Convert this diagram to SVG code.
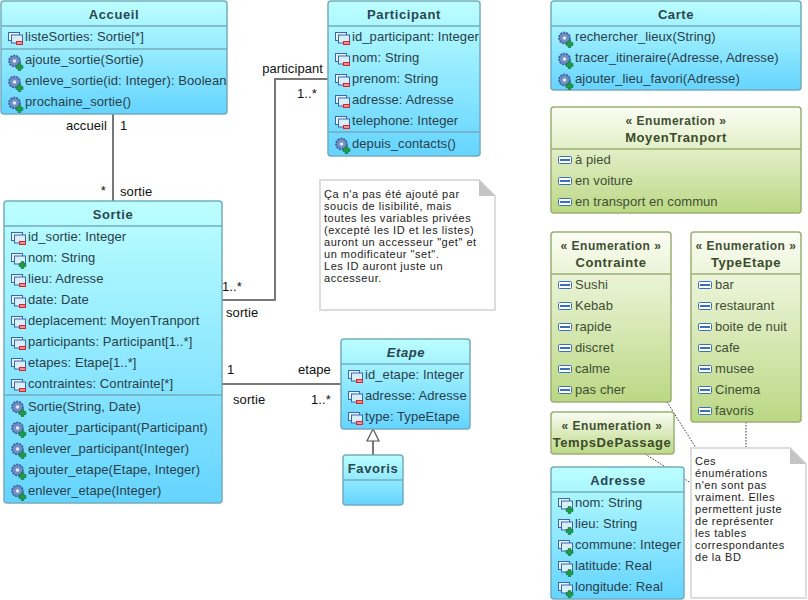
<svg xmlns="http://www.w3.org/2000/svg" xmlns:xlink="http://www.w3.org/1999/xlink" width="808" height="600" viewBox="0 0 808 600">
<style>
text{font-family:"Liberation Sans",Arial,sans-serif;font-size:13px;letter-spacing:.08px;fill:#2a3f48}
.t{font-weight:bold;text-anchor:middle;fill:#2a4650;letter-spacing:.6px}
.s{font-weight:bold;text-anchor:middle;font-size:12px;fill:#3a4a2a;letter-spacing:.5px}
.g .t{fill:#3a4a2a}
.g text{fill:#3f4f35}
.l{fill:#111}
.n{font-size:11px;fill:#222;letter-spacing:.52px}
.bb{fill:url(#blue);stroke:#73acbd;stroke-width:1.5}
.gb{fill:url(#green);stroke:#9aaf75;stroke-width:1.5}
.d1{stroke:#73acbd;stroke-width:1.5}
.d2{stroke:#9aaf75;stroke-width:1.5}
.c{fill:none;stroke:#777;stroke-width:2}
.dot{fill:none;stroke:#333;stroke-width:1;stroke-dasharray:1.5 1.5}
.note{fill:#fff;stroke:#ddd;stroke-width:2}
.fold{fill:#c4c4c4}
</style>
<defs>
<linearGradient id="blue" x1="0" y1="0" x2="0" y2="1"><stop offset="0" stop-color="#bcfeff"/><stop offset="1" stop-color="#65d4ff"/></linearGradient>
<linearGradient id="green" x1="0" y1="0" x2="0" y2="1"><stop offset="0" stop-color="#fbfdf3"/><stop offset="1" stop-color="#bbd884"/></linearGradient>
<g id="f"><rect x="0.5" y="0.5" width="11" height="8" fill="#e6f4fb" stroke="#3a66b0"/><rect x="3.5" y="3" width="11" height="8" fill="#d8effa" stroke="#3a66b0"/></g>
<g id="fm"><use xlink:href="#f"/><rect x="8" y="9" width="7" height="4" fill="#d8232a"/><rect x="9" y="10.5" width="5" height="1" fill="#fff"/></g>
<g id="fp"><use xlink:href="#f"/><path d="M10 8.5h3v2h2v3h-2v2h-3v-2h-2v-3h2z" fill="#1f9a4c" stroke="#0e6a30" stroke-width=".5"/></g>
<g id="o"><circle cx="6.5" cy="6" r="5.5" fill="#6f8fc4" stroke="#3a5a9a" stroke-dasharray="2 1" stroke-width="1.6"/><circle cx="6.5" cy="6" r="1.8" fill="#dfe9f6"/><path d="M10 8.5h3v2h2v3h-2v2h-3v-2h-2v-3h2z" fill="#1f9a4c" stroke="#0e6a30" stroke-width=".5"/></g>
<g id="e"><rect x="0.5" y="0.5" width="13" height="7" rx="1" fill="#fff" stroke="#3a70b8"/><rect x="2" y="3" width="10" height="2" fill="#3a70b8"/></g>
</defs>

<g id="connectors">
<path class="c" d="M113 114V201"/>
<path class="c" d="M222 300H275V79H328"/>
<path class="c" d="M222 384H341"/>
<path class="c" d="M373 455V441"/>
<path d="M373 429L379 441H367Z" fill="#fff" stroke="#555" stroke-width="1.2"/>
<path class="dot" d="M667 402L696 448"/>
<path class="dot" d="M645 454L691 483"/>
<path class="dot" d="M746 422V448"/>
<g class="l">
<text class="l" x="107" y="130" text-anchor="end">accueil</text><text class="l" x="120" y="130">1</text>
<text class="l" x="106" y="195" text-anchor="end">*</text><text class="l" x="120" y="196">sortie</text>
<text class="l" x="323" y="73" text-anchor="end">participant</text><text class="l" x="297" y="98">1..*</text>
<text class="l" x="222" y="291">1..*</text><text class="l" x="226" y="317">sortie</text>
<text class="l" x="227" y="374">1</text><text class="l" x="233" y="404">sortie</text>
<text class="l" x="298" y="374">etape</text><text class="l" x="311" y="404">1..*</text>
</g>
</g>

<g id="accueil">
<rect class="bb" x="1" y="1" width="226" height="113" rx="3"/>
<path class="d1" d="M1 26H227M1 49H227"/>
<text class="t" x="114" y="19">Accueil</text>
<use xlink:href="#fm" x="8" y="32"/><text x="25" y="41">listeSorties: Sortie[*]</text>
<use xlink:href="#o" x="8" y="55"/><text x="25" y="64">ajoute_sortie(Sortie)</text>
<use xlink:href="#o" x="8" y="76"/><text x="25" y="85">enleve_sortie(id: Integer): Boolean</text>
<use xlink:href="#o" x="8" y="97"/><text x="25" y="106">prochaine_sortie()</text>
</g>

<g id="participant">
<rect class="bb" x="328" y="1" width="152" height="155" rx="3"/>
<path class="d1" d="M328 26H480M328 132H480"/>
<text class="t" x="404" y="19">Participant</text>
<use xlink:href="#fm" x="335" y="32"/><text x="352" y="41">id_participant: Integer</text>
<use xlink:href="#fm" x="335" y="53"/><text x="352" y="62">nom: String</text>
<use xlink:href="#fm" x="335" y="74"/><text x="352" y="83">prenom: String</text>
<use xlink:href="#fm" x="335" y="95"/><text x="352" y="104">adresse: Adresse</text>
<use xlink:href="#fm" x="335" y="116"/><text x="352" y="125">telephone: Integer</text>
<use xlink:href="#o" x="335" y="138"/><text x="352" y="148">depuis_contacts()</text>
</g>

<g id="carte">
<rect class="bb" x="551" y="1" width="250" height="89" rx="3"/>
<path class="d1" d="M551 26H801"/>
<text class="t" x="676" y="19">Carte</text>
<use xlink:href="#o" x="558" y="32"/><text x="575" y="41">rechercher_lieux(String)</text>
<use xlink:href="#o" x="558" y="53"/><text x="575" y="62">tracer_itineraire(Adresse, Adresse)</text>
<use xlink:href="#o" x="558" y="74"/><text x="575" y="83">ajouter_lieu_favori(Adresse)</text>
</g>

<g id="moyentranport" class="g">
<rect class="gb" x="551" y="107" width="250" height="106" rx="3"/>
<path class="d2" d="M551 149H801"/>
<text class="s" x="676" y="125">« Enumeration »</text>
<text class="t" x="676" y="142">MoyenTranport</text>
<use xlink:href="#e" x="558" y="156"/><text x="575" y="164">à pied</text>
<use xlink:href="#e" x="558" y="177"/><text x="575" y="185">en voiture</text>
<use xlink:href="#e" x="558" y="198"/><text x="575" y="206">en transport en commun</text>
</g>

<g id="contrainte" class="g">
<rect class="gb" x="551" y="232" width="120" height="170" rx="3"/>
<path class="d2" d="M551 274H671"/>
<text class="s" x="611" y="250">« Enumeration »</text>
<text class="t" x="611" y="267">Contrainte</text>
<use xlink:href="#e" x="558" y="281"/><text x="575" y="289">Sushi</text>
<use xlink:href="#e" x="558" y="302"/><text x="575" y="310">Kebab</text>
<use xlink:href="#e" x="558" y="323"/><text x="575" y="331">rapide</text>
<use xlink:href="#e" x="558" y="344"/><text x="575" y="352">discret</text>
<use xlink:href="#e" x="558" y="365"/><text x="575" y="373">calme</text>
<use xlink:href="#e" x="558" y="386"/><text x="575" y="394">pas cher</text>
</g>

<g id="typeetape" class="g">
<rect class="gb" x="691" y="232" width="110" height="190" rx="3"/>
<path class="d2" d="M691 274H801"/>
<text class="s" x="746" y="250">« Enumeration »</text>
<text class="t" x="746" y="267">TypeEtape</text>
<use xlink:href="#e" x="698" y="281"/><text x="715" y="289">bar</text>
<use xlink:href="#e" x="698" y="302"/><text x="715" y="310">restaurant</text>
<use xlink:href="#e" x="698" y="323"/><text x="715" y="331">boite de nuit</text>
<use xlink:href="#e" x="698" y="344"/><text x="715" y="352">cafe</text>
<use xlink:href="#e" x="698" y="365"/><text x="715" y="373">musee</text>
<use xlink:href="#e" x="698" y="386"/><text x="715" y="394">Cinema</text>
<use xlink:href="#e" x="698" y="407"/><text x="715" y="415">favoris</text>
</g>

<g id="tempsdepassage" class="g">
<rect class="gb" x="551" y="412" width="123" height="42" rx="3"/>
<text class="s" x="612" y="430">« Enumeration »</text>
<text class="t" x="612" y="447">TempsDePassage</text>
</g>

<g id="adresse">
<rect class="bb" x="551" y="467" width="133" height="132" rx="3"/>
<path class="d1" d="M551 492H684"/>
<text class="t" x="618" y="485">Adresse</text>
<use xlink:href="#fp" x="558" y="498"/><text x="575" y="507">nom: String</text>
<use xlink:href="#fp" x="558" y="519"/><text x="575" y="528">lieu: String</text>
<use xlink:href="#fp" x="558" y="540"/><text x="575" y="549">commune: Integer</text>
<use xlink:href="#fp" x="558" y="561"/><text x="575" y="570">latitude: Real</text>
<use xlink:href="#fp" x="558" y="582"/><text x="575" y="591">longitude: Real</text>
</g>

<g id="sortie">
<rect class="bb" x="4" y="201" width="218" height="302" rx="3"/>
<path class="d1" d="M4 226H222M4 395H222"/>
<text class="t" x="113" y="219">Sortie</text>
<use xlink:href="#fm" x="11" y="232"/><text x="28" y="241">id_sortie: Integer</text>
<use xlink:href="#fp" x="11" y="253"/><text x="28" y="262">nom: String</text>
<use xlink:href="#fm" x="11" y="274"/><text x="28" y="283">lieu: Adresse</text>
<use xlink:href="#fm" x="11" y="295"/><text x="28" y="304">date: Date</text>
<use xlink:href="#fm" x="11" y="316"/><text x="28" y="325">deplacement: MoyenTranport</text>
<use xlink:href="#fm" x="11" y="337"/><text x="28" y="346">participants: Participant[1..*]</text>
<use xlink:href="#fm" x="11" y="358"/><text x="28" y="367">etapes: Etape[1..*]</text>
<use xlink:href="#fm" x="11" y="379"/><text x="28" y="388">contraintes: Contrainte[*]</text>
<use xlink:href="#o" x="11" y="401"/><text x="28" y="411">Sortie(String, Date)</text>
<use xlink:href="#o" x="11" y="422"/><text x="28" y="432">ajouter_participant(Participant)</text>
<use xlink:href="#o" x="11" y="443"/><text x="28" y="453">enlever_participant(Integer)</text>
<use xlink:href="#o" x="11" y="464"/><text x="28" y="474">ajouter_etape(Etape, Integer)</text>
<use xlink:href="#o" x="11" y="485"/><text x="28" y="495">enlever_etape(Integer)</text>
</g>

<g id="etape">
<rect class="bb" x="341" y="339" width="129" height="90" rx="3"/>
<path class="d1" d="M341 364H470"/>
<text class="t" x="406" y="357" font-style="italic">Etape</text>
<use xlink:href="#fm" x="348" y="370"/><text x="365" y="379">id_etape: Integer</text>
<use xlink:href="#fm" x="348" y="391"/><text x="365" y="400">adresse: Adresse</text>
<use xlink:href="#fm" x="348" y="412"/><text x="365" y="421">type: TypeEtape</text>
</g>

<g id="favoris">
<rect class="bb" x="343" y="455" width="60" height="50" rx="3"/>
<path class="d1" d="M343 480H403"/>
<text class="t" x="373" y="473">Favoris</text>
</g>

<g id="note1">
<path class="note" d="M320 180H479L495 196V310H320Z"/>
<path class="fold" d="M479 180L495 196H479Z"/>
<text class="n"><tspan x="324" y="198">Ça n'a pas été ajouté par</tspan><tspan x="324" y="210">soucis de lisibilité, mais</tspan><tspan x="324" y="222">toutes les variables privées</tspan><tspan x="324" y="234">(excepté les ID et les listes)</tspan><tspan x="324" y="246">auront un accesseur "get" et</tspan><tspan x="324" y="258">un modificateur "set".</tspan><tspan x="324" y="270">Les ID auront juste un</tspan><tspan x="324" y="282">accesseur.</tspan></text>
</g>

<g id="note2">
<path class="note" d="M691 448H790L806 464V598H691Z"/>
<path class="fold" d="M790 448L806 464H790Z"/>
<text class="n"><tspan x="695" y="465">Ces</tspan><tspan x="695" y="477">énumérations</tspan><tspan x="695" y="489">n'en sont pas</tspan><tspan x="695" y="501">vraiment. Elles</tspan><tspan x="695" y="513">permettent juste</tspan><tspan x="695" y="525">de représenter</tspan><tspan x="695" y="537">les tables</tspan><tspan x="695" y="549">correspondantes</tspan><tspan x="695" y="561">de la BD</tspan></text>
</g>
</svg>
